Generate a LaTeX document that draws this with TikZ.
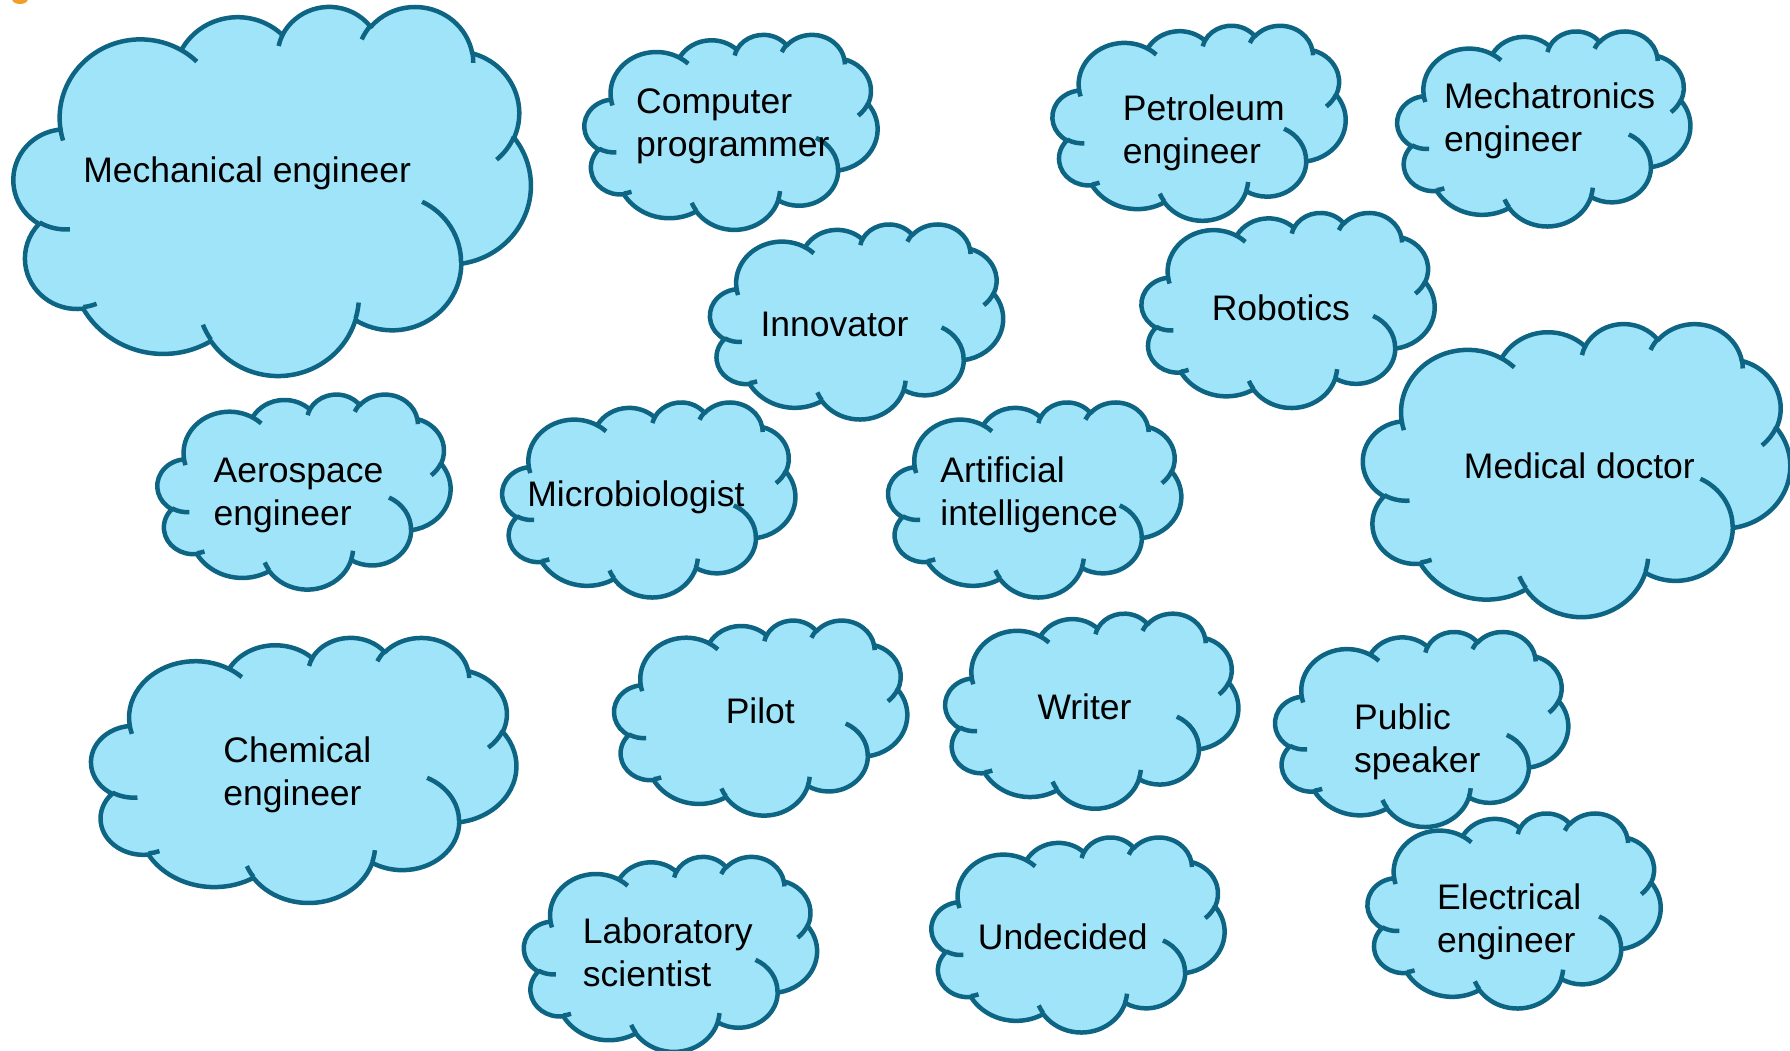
\documentclass[tikz,border=0pt]{standalone}
\usepackage{fontspec}
\setmainfont{Liberation Sans}
\usepackage{tikz}
\definecolor{cloudfill}{RGB}{160,228,250}
\definecolor{cloudline}{RGB}{14,101,131}
\definecolor{speck}{RGB}{240,160,40}

\tikzset{
  pa/.code n args={4}{%
    \pgfmathsetmacro\pptts{atan2(#1*sin(#3),#2*cos(#3))}%
    \pgfmathsetmacro\pptte{atan2(#1*sin(#3+#4),#2*cos(#3+#4))}%
    \pgfmathsetmacro\ppttd{mod(\pptte-\pptts+720,360)}%
    \pgfkeysalso{start angle=\pptts,delta angle=\ppttd,x radius=#1,y radius=#2}},
  cloudbody/.style={fill=cloudfill,draw=cloudline,line width=4.5pt,line join=round},
  hooks/.style={draw=cloudline,line width=4.5pt},
  ctext/.style={font=\fontsize{35.5}{43}\selectfont,align=left,inner sep=0pt}
}

% cloud: name, left, top, width, height
\newcommand\pptcloud[5]{%
  \pgfmathsetmacro\cwx{#4/432}%
  \pgfmathsetmacro\chy{#5/432}%
  \begin{scope}[shift={(#2,#3)},x=\cwx pt,y=-\chy pt]
    \draw[cloudbody] (39,143.7)
      arc[pa={67.53}{91.90}{-190.48748}{123.78053}]
      arc[pa={53.33}{72.67}{-144.10238}{89.94523}]
      arc[pa={43.65}{59.45}{-145.80792}{99.72302}]
      arc[pa={48.57}{65.95}{-130.98607}{117.24173}]
      arc[pa={53.33}{72.73}{-78.70888}{109.02692}]
      arc[pa={67.75}{92.20}{-46.26725}{130.269}]
      arc[pa={57.85}{78.67}{0.62502}{114.03333}]
      arc[pa={67.52}{92.15}{22.4516}{115.17255}]
      arc[pa={77.20}{105.43}{66.24263}{75.71102}]
      arc[pa={43.60}{59.18}{-274.94208}{146.73557}]
      arc[pa={43.45}{59.45}{-246.8285}{152.51885}] -- cycle;
    \draw[hooks]
      (46.93,261.77) arc[pa={43.45}{59.45}{86.742}{26.4295}]
      (69.28,348.99) arc[pa={43.60}{59.18}{73.61047}{11.44747}]
      (164.78,390.90) arc[pa={67.52}{92.15}{137.62415}{14.0811}]
      (288.27,347.51) arc[pa={67.52}{92.15}{6.4533}{15.99835}]
      (341.29,229.54) arc[pa={57.85}{78.67}{-70.29235}{70.91737}]
      (417.98,153.54) arc[pa={53.33}{72.73}{30.31803}{27.7515}]
      (383.24,54.26) arc[pa={48.57}{65.95}{-13.74433}{14.8589}]
      (290.78,39.52) arc[pa={48.57}{65.95}{-149.18145}{18.19537}]
      (221.41,47.20) arc[pa={43.65}{59.45}{-163.49427}{17.68635}]
      (140.00,51.92) arc[pa={67.53}{91.90}{-66.70695}{12.31935}]
      (41.27,157.89) arc[pa={67.53}{91.90}{157.65435}{11.85817}];
    \coordinate (#1) at (216,216);
  \end{scope}}

\begin{document}
\begin{tikzpicture}[x=1pt,y=-1pt]
  \path[use as bounding box,clip] (0,0) rectangle (1790,1050);
  \fill[speck] (20,-1) ellipse [x radius=8, y radius=5];

  \pptcloud{mech}{13.7}{5.7}{517}{369}
  \pptcloud{comp}{584.5}{34.2}{293}{195}
  \pptcloud{petr}{1052.6}{25.1}{293}{195}
  \pptcloud{mtron}{1397.3}{30.8}{293}{195}
  \pptcloud{innov}{710.1}{223.8}{293}{195}
  \pptcloud{robo}{1141.6}{212.3}{293}{195}
  \pptcloud{aero}{157.5}{393.9}{293}{195}
  \pptcloud{micro}{502.3}{401.8}{293}{195}
  \pptcloud{ai}{888.2}{401.8}{293}{195}
  \pptcloud{med}{1363.1}{323.1}{427}{293}
  \pptcloud{chem}{91.3}{637.0}{425}{265}
  \pptcloud{pilot}{614.2}{619.9}{293}{195}
  \pptcloud{writer}{945.3}{613.0}{293}{195}
  \pptcloud{pub}{1275.2}{631.3}{293}{195}
  \pptcloud{lab}{524.0}{856.2}{293}{195}
  \pptcloud{undec}{931.5}{836.8}{293}{195}
  \pptcloud{elec}{1367.6}{812.8}{293}{195}

  \node[ctext] (mech-t) at (247.2,173.0) {Mechanical engineer};
  \node[ctext] (comp-t) at (732.9,126.6) {Computer\\programmer};
  \node[ctext] (petr-t) at (1203.8,132.4) {Petroleum\\engineer};
  \node[ctext] (mtron-t) at (1549.7,120.4) {Mechatronics\\engineer};
  \node[ctext] (innov-t) at (834.5,324.2) {Innovator};
  \node[ctext] (robo-t) at (1280.9,308.2) {Robotics};
  \node[ctext] (aero-t) at (298.5,495.4) {Aerospace\\engineer};
  \node[ctext] (micro-t) at (635.9,497.8) {Microbiologist};
  \node[ctext] (ai-t) at (1029.2,494.4) {Artificial\\intelligence};
  \node[ctext] (med-t) at (1579.4,465.8) {Medical doctor};
  \node[ctext] (chem-t) at (297.4,774.5) {Chemical\\engineer};
  \node[ctext] (pilot-t) at (760.3,711.1) {Pilot};
  \node[ctext] (writer-t) at (1084.5,706.6) {Writer};
  \node[ctext] (pub-t) at (1417.3,741.4) {Public\\speaker};
  \node[ctext] (lab-t) at (667.8,952.5) {Laboratory\\scientist};
  \node[ctext] (undec-t) at (1062.8,937.1) {Undecided};
  \node[ctext] (elec-t) at (1509.2,922.3) {Electrical\\engineer};
\end{tikzpicture}
\end{document}
